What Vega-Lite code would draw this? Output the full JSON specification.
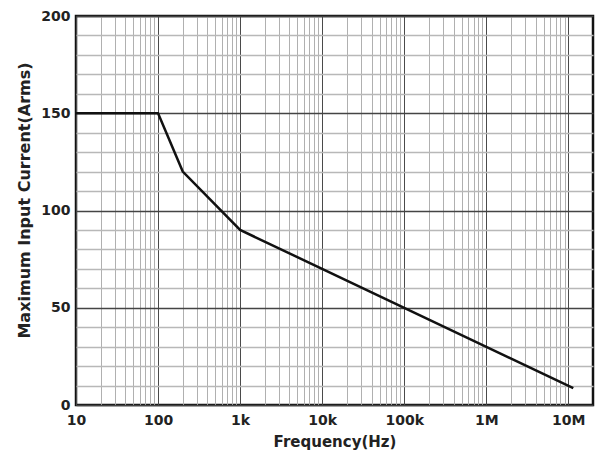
{
  "$schema": "https://vega.github.io/schema/vega-lite/v6.json",
  "width": 517,
  "height": 389,
  "autosize": {"type": "none"},
  "padding": {"left": 76, "top": 16, "right": 6, "bottom": 54},
  "background": "white",
  "config": {"view": {"stroke": "#111", "strokeWidth": 2.5}, "font": "DejaVu Sans"},
  "data": {"values": [
    {"f": 10, "i": 150},
    {"f": 100, "i": 150},
    {"f": 200, "i": 120},
    {"f": 1000, "i": 90},
    {"f": 11500000, "i": 8.7}
  ]},
  "mark": {"type": "line", "color": "#111", "strokeWidth": 2.5},
  "encoding": {
    "x": {
      "field": "f", "type": "quantitative",
      "scale": {"type": "log", "domain": [10, 20000000], "nice": false},
      "axis": {
        "values": [10,20,30,40,50,60,70,80,90,100,200,300,400,500,600,700,800,900,1000,2000,3000,4000,5000,6000,7000,8000,9000,10000,20000,30000,40000,50000,60000,70000,80000,90000,100000,200000,300000,400000,500000,600000,700000,800000,900000,1000000,2000000,3000000,4000000,5000000,6000000,7000000,8000000,9000000,10000000],
        "labelExpr": "datum.value==10?'10':datum.value==100?'100':datum.value==1000?'1k':datum.value==10000?'10k':datum.value==100000?'100k':datum.value==1000000?'1M':datum.value==10000000?'10M':''",
        "title": "Frequency(Hz)",
        "grid": true,
        "gridColor": {"condition": {"test": "datum.value==10||datum.value==100||datum.value==1000||datum.value==10000||datum.value==100000||datum.value==1000000||datum.value==10000000", "value": "#4a4a4a"}, "value": "#b0b0b0"},
        "gridWidth": 1,
        "ticks": false,
        "domain": false,
        "labelOverlap": false,
        "labelFlush": false,
        "labelBound": false,
        "labelFont": "DejaVu Sans",
        "labelFontWeight": "bold",
        "labelFontSize": 14,
        "labelColor": "#222",
        "labelPadding": 8,
        "titleFont": "DejaVu Sans",
        "titleFontWeight": "bold",
        "titleFontSize": 15,
        "titleColor": "#222",
        "titlePadding": 7
      }
    },
    "y": {
      "field": "i", "type": "quantitative",
      "scale": {"domain": [0, 200], "nice": false, "zero": true},
      "axis": {
        "values": [0,10,20,30,40,50,60,70,80,90,100,110,120,130,140,150,160,170,180,190,200],
        "labelExpr": "datum.value%50==0?datum.label:''",
        "title": "Maximum Input Current(Arms)",
        "grid": true,
        "gridColor": {"condition": {"test": "datum.value%50==0", "value": "#444"}, "value": "#b8b8b8"},
        "gridWidth": 1.4,
        "ticks": false,
        "domain": false,
        "labelOverlap": false,
        "labelFlush": false,
        "labelBound": false,
        "labelFont": "DejaVu Sans",
        "labelFontWeight": "bold",
        "labelFontSize": 14,
        "labelColor": "#222",
        "labelPadding": 6,
        "titleFont": "DejaVu Sans",
        "titleFontWeight": "bold",
        "titleFontSize": 16,
        "titleColor": "#222",
        "titlePadding": 8,
        "titleY": 184
      }
    }
  }
}
